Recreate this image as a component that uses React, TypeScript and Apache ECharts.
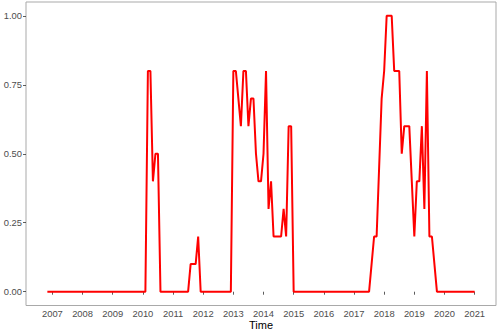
import React, { useEffect, useRef } from "react";
import * as echarts from "echarts";

// Monthly series, first value = November 2006
const startYear = 2006;
const startMonth = 11;
const values2006 = [0, 0]; // Nov, Dec
const values2007 = [0, 0, 0, 0, 0, 0, 0, 0, 0, 0, 0, 0];
const values2008 = [0, 0, 0, 0, 0, 0, 0, 0, 0, 0, 0, 0];
const values2009 = [0, 0, 0, 0, 0, 0, 0, 0, 0, 0, 0, 0];
const values2010 = [0, 0, 0.8, 0.8, 0.4, 0.5, 0.5, 0, 0, 0, 0, 0];
const values2011 = [0, 0, 0, 0, 0, 0, 0, 0.1, 0.1, 0.1, 0.2, 0];
const values2012 = [0, 0, 0, 0, 0, 0, 0, 0, 0, 0, 0, 0];
const values2013 = [0.8, 0.8, 0.7, 0.6, 0.8, 0.8, 0.6, 0.7, 0.7, 0.5, 0.4, 0.4];
const values2014 = [0.5, 0.8, 0.3, 0.4, 0.2, 0.2, 0.2, 0.2, 0.3, 0.2, 0.6, 0.6];
const values2015 = [0, 0, 0, 0, 0, 0, 0, 0, 0, 0, 0, 0];
const values2016 = [0, 0, 0, 0, 0, 0, 0, 0, 0, 0, 0, 0];
const values2017 = [0, 0, 0, 0, 0, 0, 0, 0.1, 0.2, 0.2, 0.45, 0.7];
const values2018 = [0.8, 1.0, 1.0, 1.0, 0.8, 0.8, 0.8, 0.5, 0.6, 0.6, 0.6, 0.4];
const values2019 = [0.2, 0.4, 0.4, 0.6, 0.3, 0.8, 0.2, 0.2, 0.1, 0, 0, 0];
const values2020 = [0, 0, 0, 0, 0, 0, 0, 0, 0, 0, 0, 0];
const values2021 = [0]; // Jan

const values = [
  ...values2006, ...values2007, ...values2008, ...values2009, ...values2010,
  ...values2011, ...values2012, ...values2013, ...values2014, ...values2015,
  ...values2016, ...values2017, ...values2018, ...values2019, ...values2020,
  ...values2021,
];

const xTickYears = [2007, 2008, 2009, 2010, 2011, 2012, 2013, 2014, 2015, 2016, 2017, 2018, 2019, 2020, 2021];
const yTickValues = [0, 0.25, 0.5, 0.75, 1];
const xTitle = "Time";

export default function App() {
  const ref = useRef<HTMLDivElement>(null);

  useEffect(() => {
    if (!ref.current) return;
    const chart = echarts.init(ref.current, null, { renderer: "svg" });

    const data = values.map((v, i) => [startYear + (startMonth - 1 + i) / 12, v]);
    const xFirst = data[0][0] as number;
    const xLast = data[data.length - 1][0] as number;
    const span = xLast - xFirst;

    const font = "'Liberation Sans', Arial, sans-serif";

    chart.setOption({
      animation: false,
      backgroundColor: "#ffffff",
      grid: {
        left: 26,
        right: 2,
        top: 2,
        bottom: 26.5,
        containLabel: false,
        outerBoundsMode: "none",
        show: true,
        borderColor: "#A9A9A9",
        borderWidth: 1,
        backgroundColor: "#ffffff",
      },
      xAxis: {
        type: "value",
        min: xFirst - 0.05 * span,
        max: xLast + 0.05 * span,
        name: xTitle,
        nameLocation: "middle",
        nameGap: 13,
        nameMoveOverlap: false,
        nameTextStyle: {
          fontFamily: font,
          fontSize: 11,
          color: "#000000",
          verticalAlign: "top",
          lineHeight: 12,
        },
        axisLine: { show: false },
        splitLine: { show: false },
        axisTick: {
          show: true,
          length: 3,
          customValues: xTickYears,
          lineStyle: { color: "#333333", width: 0.8 },
        },
        axisLabel: {
          customValues: xTickYears,
          margin: 3,
          lineHeight: 10,
          fontFamily: font,
          fontSize: 9.4,
          color: "#4D4D4D",
          formatter: (v: number) => String(Math.round(v)),
        },
      },
      yAxis: {
        type: "value",
        min: -0.05,
        max: 1.05,
        axisLine: { show: false },
        splitLine: { show: false },
        axisTick: {
          show: true,
          length: 3,
          customValues: yTickValues,
          lineStyle: { color: "#333333", width: 0.8 },
        },
        axisLabel: {
          customValues: yTickValues,
          margin: 4,
          fontFamily: font,
          fontSize: 9.4,
          color: "#4D4D4D",
          formatter: (v: number) => v.toFixed(2),
        },
      },
      series: [
        {
          type: "line",
          data,
          showSymbol: false,
          symbol: "none",
          lineStyle: { color: "#FF0000", width: 2 },
          clip: true,
        },
      ],
    });

    return () => {
      chart.dispose();
    };
  }, []);

  return (
    <div
      ref={ref}
      style={{ position: "fixed", left: 0, top: 0, width: 498, height: 332 }}
    />
  );
}
